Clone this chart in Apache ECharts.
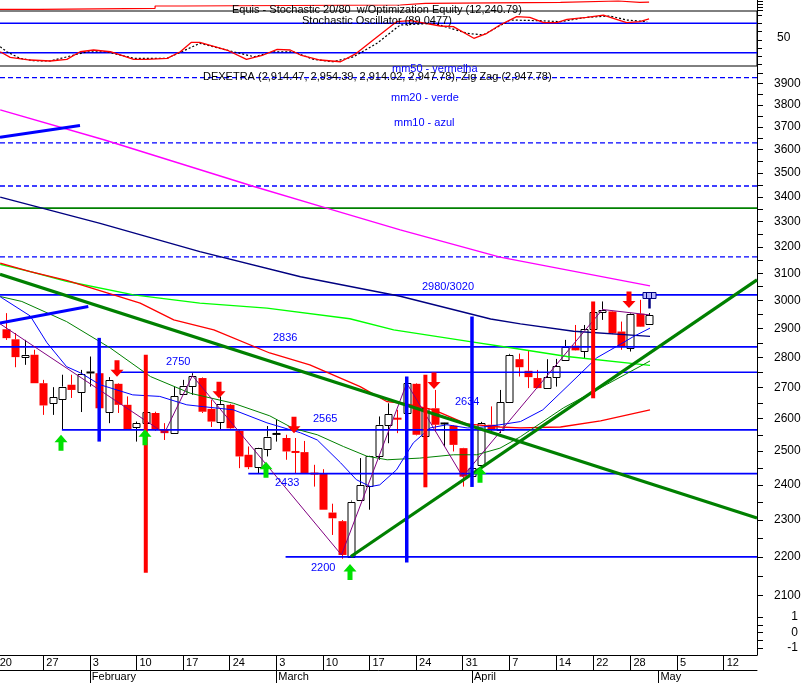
<!DOCTYPE html>
<html><head><meta charset="utf-8">
<script src="https://cdn.jsdelivr.net/npm/echarts@6/dist/echarts.min.js"></script>
<style>html,body{margin:0;padding:0;background:#fff}#c{width:804px;height:683px}</style>
</head><body><div id="c"></div>
<script>
// ---------------- DATA ----------------
const firstIdx = 1; // trading-day index of first candle (index 0 = Jan 20)
const openV  = [2897,2862,2801,2809,2714,2649,2665,2709,2684,2747,2747,2622,2712,2644,2574,2588,2618,2565,2555,2681,2706,2731,2631,2591,2644,2562,2489,2452,2506,2550,2540,2499,2497,2434,2434,2321,2297,2201,2357,2395,2486,2578,2601,2618,2712,2544,2633,2584,2578,2509,2424,2459,2581,2565,2654,2794,2755,2731,2698,2736,2789,2840,2820,2897,2960,2960,2889,2832,2952,2914.47];
const highV  = [2954,2884,2860,2826,2725,2701,2742,2742,2758,2803,2750,2734,2714,2671,2591,2630,2622,2586,2703,2725,2747,2733,2660,2671,2647,2565,2514,2510,2577,2598,2550,2540,2531,2459,2446,2346,2300,2355,2479,2486,2607,2649,2628,2720,2714,2640,2692,2587,2580,2510,2455,2590,2639,2692,2812,2813,2822,2758,2794,2795,2860,2912,2912,2960,2996,2962,2924,2954,3002,2954.39];
const lowV   = [2860,2767,2775,2714,2612,2612,2565,2666,2621,2703,2630,2586,2618,2565,2529,2580,2562,2534,2555,2676,2676,2618,2574,2565,2568,2449,2446,2434,2484,2529,2474,2434,2434,2395,2329,2259,2195,2200,2355,2329,2474,2524,2555,2610,2548,2540,2560,2514,2499,2395,2420,2455,2555,2555,2650,2736,2698,2697,2697,2703,2788,2823,2798,2890,2930,2880,2826,2820,2905,2914.02];
const closeV = [2866,2801,2809,2714,2642,2668,2703,2692,2744,2752,2633,2725,2644,2565,2586,2622,2565,2555,2671,2706,2739,2622,2591,2647,2570,2484,2452,2509,2544,2555,2499,2496,2434,2432,2329,2305,2205,2352,2400,2484,2581,2614,2599,2714,2550,2633,2581,2586,2519,2424,2449,2586,2565,2652,2809,2767,2734,2698,2734,2771,2834,2824,2897,2957,2967,2883,2837,2952,2906,2947.78];

const mm10 = [[0.38,3013],[3.6,2944],[5.4,2850],[7.5,2769],[9.0,2748],[11.1,2709],[14.6,2676],[17.5,2671],[20.4,2644],[22.2,2638],[25.4,2628],[29.0,2587],[32.6,2556],[34.4,2534],[36.9,2465],[38.6,2415],[40.1,2395],[41.1,2400],[42.9,2444],[44.7,2525],[46.5,2571],[48.3,2581],[50.5,2571],[52.2,2574],[54.0,2581],[56.2,2591],[58.6,2628],[61.2,2703],[64.4,2799],[66.5,2837],[68.3,2871],[70.1,2901]];
const mm20 = [[0.38,3014],[2.7,2996],[7.5,2924],[12.2,2832],[16.5,2736],[20.8,2681],[25.4,2649],[29.3,2609],[31.8,2570],[34.4,2550],[37.2,2514],[39.7,2485],[41.9,2474],[45.4,2479],[49.0,2489],[51.5,2489],[54.0,2509],[56.2,2544],[60.8,2634],[65.4,2709],[70.1,2788]];
const mm50 = [[0.38,3138],[3.6,3106],[7.5,3073],[12.2,3024],[15.4,2990],[19.0,2930],[23.3,2895],[29.3,2815],[33.6,2775],[39.0,2703],[41.9,2654],[43.6,2649],[46.9,2628],[50.4,2584],[54.0,2574],[56.2,2571],[60.5,2574],[64.8,2593],[70.1,2628]];
const maLime = [[0.38,3134],[3.6,3106],[7.5,3070],[14.7,3020],[21.8,2990],[29.0,2972],[37.9,2934],[42.6,2895],[50.8,2854],[56.2,2828],[61.2,2803],[70.1,2773]];
const maNavy = [[0.38,3399],[11.1,3293],[21.8,3182],[32.6,3087],[43.3,3015],[53.0,2933],[56.2,2916],[61.9,2890],[70.1,2872]];
const maMagenta = [[0.38,3777],[11.5,3643],[27.6,3443],[35.4,3354],[43.3,3267],[54.0,3161],[70.1,3053]];
const zigzag = [[0,2924],[18,2555],[21,2739],[37,2205],[44,2714],[50,2424],[65,2967],[70,2947.78]];

const trendDown = [[0.36,3096],[81.58,2306]];
const trendUp   = [[38,2201],[81.58,3075]];
const blueSeg1  = [[0.36,3654],[8.94,3706]];
const blueSeg2  = [[0.36,2919],[9.83,2978]];

const levelValues = [3020, 2836, 2750, 2565, 2433, 2200];
const levelStarts = [-0.5, -0.5, 12.7, 7, 27, 31];
const dashedLevels = [3927, 3629, 3445, 3162];
const greenLevel = 3354;

const vertBlueIdx = [11, 44, 51], vertBlueLow = [2529, 2185, 2394], vertBlueHigh = [2867, 2736, 2942];
const vertRedIdx  = [16, 46, 64], vertRedLow  = [2158, 2393, 2665], vertRedHigh  = [2809, 2742, 2996];

const sellIdx = [13, 24, 32, 47, 68], sellTip = [2735, 2665, 2555, 2695, 2972];
const buyIdx  = [7, 16, 29, 38, 52],  buyTip  = [2550, 2567, 2468, 2181, 2453];
const markerIdx = [70], markerVal = [3020];

const stochK = [[0.38,22.0],[1.45,10.6],[3.6,5.1],[5.74,3.1],[7.53,6.5],[8.96,22.0],[10.4,25.5],[12.2,22.0],[14.7,6.5],[16.1,6.5],[18.3,8.6],[19.7,22.0],[20.9,41.2],[21.8,41.2],[24.7,25.5],[26.8,6.5],[28.6,15.3],[30.1,26.9],[31.5,25.5],[32.6,15.3],[34.7,5.1],[36.9,1.6],[38.6,18.8],[40.4,45.9],[42.9,83.3],[44.4,85.3],[47.6,74.5],[49.0,73.1],[51.2,49.4],[52.6,59.6],[54.0,76.5],[55.8,93.5],[57.2,92.2],[58.7,81.2],[60.1,81.2],[61.2,88.2],[63.3,92.2],[65.1,96.9],[66.5,88.2],[67.6,81.2],[69.0,83.3],[70,89.05]];
const stochD = [[0.38,32.2],[1.09,22.0],[2.5,8.6],[3.95,3.7],[5.74,3.1],[7.9,13.3],[9.68,22.0],[11.8,22.0],[14.7,8.6],[18.3,8.6],[20.4,26.9],[21.8,39.2],[25.4,22.0],[27.6,11.8],[29.7,22.0],[31.8,22.0],[34.0,6.5],[36.1,1.6],[38.3,11.8],[40.8,39.2],[43.3,76.5],[46.9,80.0],[50.5,59.6],[52.2,56.1],[55.1,86.7],[58.3,85.3],[60.5,83.3],[63.3,92.2],[65.8,94.9],[67.6,86.7],[69.8,83.3]];
const stochLevels = [80, 20];
const equity = [[0.36,10264],[4.6,10537],[17,11164],[20,11436],[43.3,11900],[46,12173],[60.5,12527],[66.7,12173],[69,12241],[70,12241]];

const weekTickIdx = [0,5,10,15,20,25,30,35,40,45,50,55,60,64,68,73,78];
const weekTickLabels = ['20','27','3','10','17','24','3','10','17','24','31','7','14','22','28','5','12'];
const monthTickIdx = [10,30,51,71];
const monthLabels = ['February','March','April','May'];
const priceTickLabels = [2100,2200,2300,2400,2500,2600,2700,2800,2900,3000,3100,3200,3300,3400,3500,3600,3700,3800,3900];
const stochTickLabels = [50];
const stochTickMarks = [97, 80, 63, 46, 29, 12, -3];
const lowerTickLabels = [-1,0,1];

// ---------------- CHART ----------------
const X_MIN = -0.5, X_MAX = 81.58;
const FONT = 'Liberation Sans';
const priceMinor = priceTickLabels.map(v => v + 50);
const allPriceTicks = priceTickLabels.concat(priceMinor);

function hl(v, s) { return [[s, v], [X_MAX, v]]; }
function ln(data, color, width, extra, ax) {
  ax = ax === undefined ? 2 : ax;
  return Object.assign({type:'line', xAxisIndex:ax, yAxisIndex:ax, data:data, symbol:'none', silent:true,
    lineStyle:{color:color, width:width}, z:3, clip:true}, extra || {});
}

const candles = openV.map((o,k) => [firstIdx+k, o, closeV[k], lowV[k], highV[k]]);

function renderCandle(params, api) {
  const i = api.value(0), o = api.value(1), c = api.value(2), l = api.value(3), h = api.value(4);
  const pO = api.coord([i,o]), pC = api.coord([i,c]), pL = api.coord([i,l]), pH = api.coord([i,h]);
  const step = api.coord([i+1,o])[0] - pO[0];
  const w = Math.round(step*0.7);
  const xr = Math.round(pO[0]) + 0.5;
  const top = Math.min(pO[1],pC[1]), bot = Math.max(pO[1],pC[1]);
  const up = c >= o;
  const col = up ? '#000000' : '#ff0000';
  const ch = [
    {type:'line', shape:{x1:xr,y1:pH[1],x2:xr,y2:top}, style:{stroke:col,lineWidth:1}},
    {type:'line', shape:{x1:xr,y1:bot,x2:xr,y2:pL[1]}, style:{stroke:col,lineWidth:1}}
  ];
  if (bot - top < 1.8) {
    const ym = (top+bot)/2;
    ch.push({type:'line', shape:{x1:xr-w/2-0.5,y1:ym,x2:xr+w/2+0.5,y2:ym}, style:{stroke:col,lineWidth:2}});
  } else if (up) {
    ch.push({type:'rect', shape:{x:xr-w/2,y:Math.round(top)+0.5,width:w,height:Math.round(bot-top)}, style:{fill:'#ffffff',stroke:'#000000',lineWidth:1}});
  } else {
    ch.push({type:'rect', shape:{x:xr-w/2-0.5,y:top,width:w+1,height:bot-top}, style:{fill:'#ff0000'}});
  }
  return {type:'group', children:ch};
}
function renderVert(color, width) {
  return function(params, api) {
    const a = api.coord([api.value(0), api.value(1)]), b = api.coord([api.value(0), api.value(2)]);
    return {type:'line', shape:{x1:a[0],y1:a[1],x2:b[0],y2:b[1]}, style:{stroke:color, lineWidth:width}};
  };
}
function renderArrow(dir, color) {
  return function(params, api) {
    const p = api.coord([api.value(0), api.value(1)]);
    const x = Math.round(p[0]) - 1, y = p[1];
    let pts;
    if (dir < 0) pts = [[x,y],[x-6.5,y-7],[x-2.5,y-7],[x-2.5,y-16.5],[x+2.5,y-16.5],[x+2.5,y-7],[x+6.5,y-7]];
    else pts = [[x,y],[x-6.5,y+7.5],[x-2.5,y+7.5],[x-2.5,y+16],[x+2.5,y+16],[x+2.5,y+7.5],[x+6.5,y+7.5]];
    return {type:'polygon', shape:{points:pts}, style:{fill:color}};
  };
}
function renderMarker(params, api) {
  const p = api.coord([api.value(0), api.value(1)]);
  const x = Math.round(p[0]) + 0.5, y = Math.round(p[1]) + 0.5;
  return {type:'group', children:[
    {type:'rect', shape:{x:x-6.5,y:y-3,width:13,height:6}, style:{fill:'#b8b8ff',stroke:'#000080',lineWidth:1}},
    {type:'line', shape:{x1:x-3,y1:y-3,x2:x-3,y2:y+3}, style:{stroke:'#000080',lineWidth:1}},
    {type:'line', shape:{x1:x+2,y1:y-3,x2:x+2,y2:y+3}, style:{stroke:'#000080',lineWidth:1}},
    {type:'line', shape:{x1:x,y1:y+3,x2:x,y2:y+13}, style:{stroke:'#000080',lineWidth:2.5}}
  ]};
}

const series = [];
series.push(ln(equity, '#ff0000', 1.2, {step:'end'}, 0));
stochLevels.forEach(v => series.push(ln(hl(v, X_MIN), '#0000ff', 1.5, null, 1)));
series.push(ln(stochD, '#000000', 1.2, {lineStyle:{color:'#000', width:1.2, type:[2,2]}}, 1));
series.push(ln(stochK, '#ff0000', 1.3, null, 1));
dashedLevels.forEach(v => series.push(ln(hl(v, X_MIN), '#0000ff', 1.3, {lineStyle:{color:'#0000ff', width:1.3, type:[5,3]}})));
series.push(ln(hl(greenLevel, X_MIN), '#008000', 1.6));
levelValues.forEach((v,k) => series.push(ln(hl(v, levelStarts[k]), '#0000ff', 1.6)));
series.push({type:'custom', xAxisIndex:2, yAxisIndex:2, data:candles, encode:{x:0,y:[1,2,3,4]}, renderItem:renderCandle, z:2, clip:true, silent:true});
series.push(ln(maMagenta, '#ff00ff', 1.4));
series.push(ln(maNavy, '#000080', 1.4));
series.push(ln(maLime, '#00ff00', 1.4));
series.push(ln(mm50, '#ff0000', 1.3));
series.push(ln(mm20, '#008000', 1));
series.push(ln(mm10, '#0000ff', 1));
series.push(ln(zigzag, '#800080', 1));
series.push(ln(trendDown, '#008000', 3.2, {z:4}));
series.push(ln(trendUp, '#008000', 3.2, {z:4}));
series.push(ln(blueSeg1, '#0000ff', 3, {z:4}));
series.push(ln(blueSeg2, '#0000ff', 3, {z:4}));
series.push({type:'custom', xAxisIndex:2, yAxisIndex:2, data:vertBlueIdx.map((x,k)=>[x,vertBlueLow[k],vertBlueHigh[k]]), encode:{x:0,y:[1,2]}, renderItem:renderVert('#0000ff',3.5), z:5, silent:true});
series.push({type:'custom', xAxisIndex:2, yAxisIndex:2, data:vertRedIdx.map((x,k)=>[x,vertRedLow[k],vertRedHigh[k]]), encode:{x:0,y:[1,2]}, renderItem:renderVert('#ff0000',4), z:5, silent:true});
series.push({type:'custom', xAxisIndex:2, yAxisIndex:2, data:sellIdx.map((x,k)=>[x,sellTip[k]]), encode:{x:0,y:1}, renderItem:renderArrow(-1,'#ff0000'), z:6, silent:true});
series.push({type:'custom', xAxisIndex:2, yAxisIndex:2, data:buyIdx.map((x,k)=>[x,buyTip[k]]), encode:{x:0,y:1}, renderItem:renderArrow(1,'#00e000'), z:6, silent:true});
series.push({type:'custom', xAxisIndex:2, yAxisIndex:2, data:markerIdx.map((x,k)=>[x,markerVal[k]]), encode:{x:0,y:1}, renderItem:renderMarker, z:6, silent:true});

function txt(x, y, s, color) {
  return {type:'text', x:x, y:y, z:100, silent:true, style:{text:s, fill:color, font:'11px "' + FONT + '"', align:'left', verticalAlign:'middle'}};
}

const axisBlack = {show:true, onZero:false, lineStyle:{color:'#000', width:1}};
const plain = (v) => String(v);
const gridBase = {left:-8, right:47, containLabel:false, outerBoundsMode:'none'};
const yLab = {fontSize:12, fontFamily:FONT, color:'#000', padding:[4,0,0,0], formatter:plain};
const option = {
  animation:false,
  backgroundColor:'#ffffff',
  grid:[
    Object.assign({top:0, height:11}, gridBase),
    Object.assign({top:11, height:55, show:true, borderColor:'#000', borderWidth:1, backgroundColor:'transparent'}, gridBase),
    Object.assign({top:66, height:542}, gridBase),
    Object.assign({top:608, height:47}, gridBase)
  ],
  xAxis:[
    {gridIndex:0, type:'value', min:X_MIN, max:X_MAX, show:false},
    {gridIndex:1, type:'value', min:X_MIN, max:X_MAX, show:false},
    {gridIndex:2, type:'value', min:X_MIN, max:X_MAX, show:false},
    {gridIndex:3, type:'value', min:X_MIN, max:X_MAX, position:'bottom', splitLine:{show:false},
      axisLine:axisBlack,
      axisTick:{show:true, customValues:weekTickIdx, length:15, lineStyle:{color:'#000'}},
      axisLabel:{show:true, customValues:weekTickIdx, formatter:(v)=>weekTickLabels[weekTickIdx.indexOf(v)], align:'left', padding:[0,0,0,3], margin:2, fontSize:11, fontFamily:FONT, color:'#000'}},
    {gridIndex:3, type:'value', min:X_MIN, max:X_MAX, position:'bottom', offset:15, splitLine:{show:false},
      axisLine:axisBlack,
      axisTick:{show:true, customValues:monthTickIdx, length:13, lineStyle:{color:'#000'}},
      axisLabel:{show:true, customValues:monthTickIdx, formatter:(v)=>monthLabels[monthTickIdx.indexOf(v)], align:'left', padding:[0,0,0,2], margin:1, fontSize:11, fontFamily:FONT, color:'#000'}}
  ],
  yAxis:[
    {gridIndex:0, type:'value', min:9800, max:12800, position:'right', splitLine:{show:false},
      axisLine:axisBlack,
      axisTick:{show:true, customValues:[10100,10900,11700,12500], length:6, lineStyle:{color:'#000'}},
      axisLabel:{show:false}},
    {gridIndex:1, type:'value', min:-7.1, max:105.1, position:'right', splitLine:{show:false},
      axisLine:axisBlack,
      axisTick:{show:true, customValues:stochTickMarks, length:5, lineStyle:{color:'#000'}},
      axisLabel:Object.assign({show:true, customValues:stochTickLabels, margin:20}, yLab)},
    {gridIndex:2, type:'log', logBase:10, min:2068, max:3983, position:'right', splitLine:{show:false},
      axisLine:axisBlack,
      axisTick:{show:true, customValues:allPriceTicks, length:6, lineStyle:{color:'#000'}},
      axisLabel:Object.assign({show:true, customValues:priceTickLabels, margin:17}, yLab)},
    {gridIndex:3, type:'value', min:-1.45, max:1.58, position:'right', splitLine:{show:false},
      axisLine:axisBlack,
      axisTick:{show:true, customValues:[-1,-0.5,0,0.5,1], length:6, lineStyle:{color:'#000'}},
      axisLabel:Object.assign({show:true, customValues:lowerTickLabels, margin:41, align:'right'}, yLab)}
  ],
  series:series,
  graphic:[
    txt(232, 10, 'Equis - Stochastic 20/80  w/Optimization Equity (12,240.79)', '#000'),
    txt(302, 21, 'Stochastic Oscillator (89.0477)', '#000'),
    txt(203, 77, 'DEXETRA (2,914.47, 2,954.39, 2,914.02, 2,947.78), Zig Zag (2,947.78)', '#000'),
    txt(392, 69, 'mm50 - vermelha', '#0000ff'),
    txt(391, 98, 'mm20 - verde', '#0000ff'),
    txt(394, 123, 'mm10 - azul', '#0000ff'),
    txt(422, 287, '2980/3020', '#0000ff'),
    txt(273, 338, '2836', '#0000ff'),
    txt(166, 362, '2750', '#0000ff'),
    txt(313, 419, '2565', '#0000ff'),
    txt(455, 402, '2634', '#0000ff'),
    txt(275, 483, '2433', '#0000ff'),
    txt(311, 568, '2200', '#0000ff')
  ]
};
const chart = echarts.init(document.getElementById('c'));
chart.setOption(option);
</script></body></html>
